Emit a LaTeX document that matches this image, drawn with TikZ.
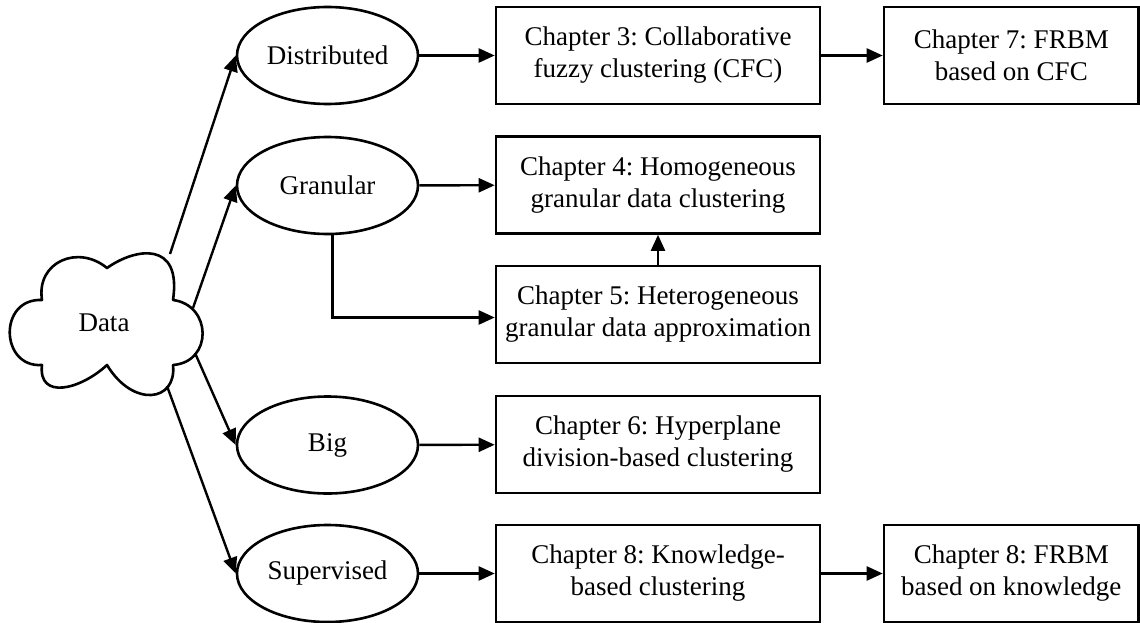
\documentclass[tikz,border=0pt]{standalone}
\usepackage{fontspec}
\setmainfont{Liberation Serif}
\usetikzlibrary{arrows.meta,shapes.geometric}
\frenchspacing

\tikzset{
  lbl/.style={font=\fontsize{27}{32}\selectfont, align=center, text=black},
  chapbox/.style={lbl, draw, line width=2.6pt, rectangle, inner sep=0pt,
                  minimum height=97pt},
  wide/.style={chapbox, minimum width=324pt},
  narrow/.style={chapbox, minimum width=254.5pt},
  kind/.style={lbl, draw, line width=2.6pt, ellipse, inner sep=0pt,
               minimum width=181pt, minimum height=97pt},
  arr/.style={line width=2.4pt, -{Triangle[length=16pt,width=14pt]}},
  cloudline/.style={line width=2.6pt, line join=round}
}

\begin{document}
\begin{tikzpicture}[x=1pt, y=-1pt]
\useasboundingbox (0,0) rectangle (1140,623);

% the data cloud
\draw[cloudline] (42,300)
  .. controls (36,262) and (78,244) .. (107,268)
  .. controls (135,248) and (182,240) .. (173,300)
  .. controls (212,305) and (213,362) .. (173,365)
  .. controls (177,402) and (133,408) .. (107,365)
  .. controls (80,390) and (38,400) .. (42,365)
  .. controls (0,368) and (-2,298) .. (42,300) -- cycle;
\node[lbl] (data) at (104,323) {Data};
\coordinate (c1) at (170,254);
\coordinate (c2) at (193,308);
\coordinate (c3) at (195,353);
\coordinate (c4) at (167,386);

% kinds of data
\node[kind] (dist) at (327.5,55.5) {Distributed};
\node[kind] (gran) at (327.5,185.5) {Granular};
\node[kind] (big)  at (327.5,445)  {Big};
\node[kind] (sup)  at (327.5,573.5) {Supervised};

% chapters
\node[wide] (ch3) at (658,55.5)  {Chapter 3: Collaborative\\fuzzy clustering (CFC)};
\node[wide] (ch4) at (658,185)   {Chapter 4: Homogeneous\\granular data clustering};
\node[wide] (ch5) at (658,314.5) {Chapter 5: Heterogeneous\\granular data approximation};
\node[wide] (ch6) at (658,444.5) {Chapter 6: Hyperplane\\division-based clustering};
\node[wide] (ch8) at (658,573.5) {Chapter 8: Knowledge-\\based clustering};
\node[narrow] (ch7)  at (1011.25,55.5)  {Chapter 7: FRBM\\based on CFC};
\node[narrow] (ch8b) at (1011.25,573.5) {Chapter 8: FRBM\\based on knowledge};

% connectors
\draw[arr] (c1) -- (dist.west);
\draw[arr] (c2) -- (gran.west);
\draw[arr] (c3) -- (big.west);
\draw[arr] (c4) -- (sup.west);

\draw[arr] (dist) -- (ch3);
\draw[arr] (gran) -- (ch4);
\draw[arr] (big) -- (ch6);
\draw[arr] (sup) -- (ch8);
\draw[arr] (ch3) -- (ch7);
\draw[arr] (ch8) -- (ch8b);
\draw[arr] ([xshift=5pt]gran.south) |- ([yshift=-3pt]ch5.west);
\draw[arr] (ch5) -- (ch4);
\end{tikzpicture}
\end{document}
